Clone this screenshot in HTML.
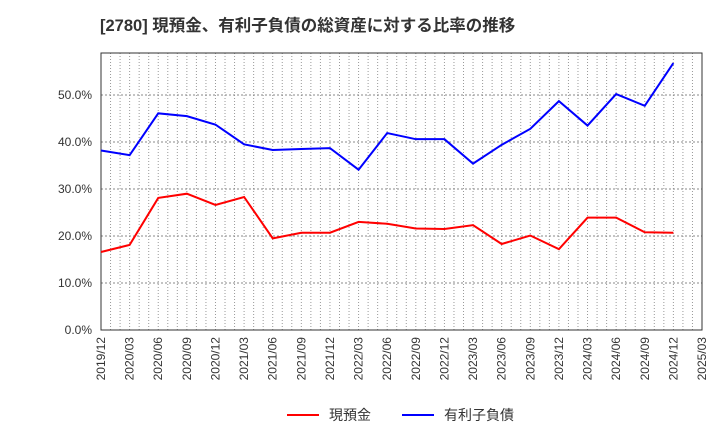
<!DOCTYPE html>
<html><head><meta charset="utf-8"><style>
body{margin:0;background:#fff;}
svg text{font-family:"Liberation Sans","Noto Sans CJK JP",sans-serif;}
</style></head><body>
<svg id="c" width="720" height="440" xmlns="http://www.w3.org/2000/svg">
<text x="100" y="31" font-size="16.5" font-weight="bold" fill="#333">[2780]  現預金、有利子負債の総資産に対する比率の推移</text>
<g id="grid"></g><g id="axes"></g><g id="series"></g>
<g>
<line x1="287" y1="415" x2="319" y2="415" stroke="#f00" stroke-width="2"/>
<text x="329" y="420" font-size="14" fill="#333">現預金</text>
<line x1="402" y1="415" x2="434" y2="415" stroke="#00f" stroke-width="2"/>
<text x="444" y="420" font-size="14" fill="#333">有利子負債</text>
</g>
</svg>
<script>
const categories=["2019/12","2020/03","2020/06","2020/09","2020/12","2021/03","2021/06","2021/09","2021/12","2022/03","2022/06","2022/09","2022/12","2023/03","2023/06","2023/09","2023/12","2024/03","2024/06","2024/09","2024/12","2025/03"];
const cash=[16.6,18.1,28.1,29.0,26.6,28.3,19.5,20.7,20.7,23.0,22.6,21.6,21.5,22.3,18.3,20.1,17.2,23.9,23.9,20.8,20.7];
const debt=[38.2,37.2,46.1,45.5,43.7,39.5,38.3,38.5,38.7,34.1,41.9,40.6,40.6,35.4,39.4,42.8,48.7,43.5,50.2,47.7,56.8];
const yTicks=[0,10,20,30,40,50];
const L=101,R=702,T=53,B=330;
const NS="http://www.w3.org/2000/svg";
const xs=i=>L+i*(R-L)/(categories.length-1);
const ys=v=>B-v*(B-95)/50;
function mk(tag,attrs,parent){const e=document.createElementNS(NS,tag);for(const k in attrs)e.setAttribute(k,attrs[k]);parent.appendChild(e);return e;}
const grid=document.getElementById('grid'),axes=document.getElementById('axes'),ser=document.getElementById('series');
for(let m=1;m<(categories.length-1)*3;m++){
  const x=L+m*(R-L)/((categories.length-1)*3);
  const g=mk('line',{x1:x,x2:x,y1:T,y2:B,stroke:'#999','stroke-dasharray':'1,2','stroke-width':1},grid);
  
  
}
yTicks.forEach(v=>{
  const y=ys(v);
  if(v>0){const g=mk('line',{x1:L,x2:R,y1:y,y2:y,stroke:'#888','stroke-dasharray':'2,2','stroke-width':1},grid);
  
  }
  const t=mk('text',{x:L-9,y:y+4,'font-size':12,'text-anchor':'end',fill:'#333'},axes);
  t.textContent=v.toFixed(1)+'%';
  
  
});
categories.forEach((c,i)=>{
  const x=xs(i);
  const t=mk('text',{x:x+4,y:B+7,'font-size':12,'text-anchor':'end',fill:'#333',transform:`rotate(-90 ${x+4} ${B+7})`},axes);
  t.textContent=c;
  
  
});
const fr=mk('rect',{x:L,y:T,width:R-L,height:B-T,fill:'none',stroke:'#333','stroke-width':1},axes);


const p1=mk('polyline',{points:cash.map((v,i)=>xs(i)+','+ys(v)).join(' '),fill:'none',stroke:'#f00','stroke-width':2},ser);


const p2=mk('polyline',{points:debt.map((v,i)=>xs(i)+','+ys(v)).join(' '),fill:'none',stroke:'#00f','stroke-width':2},ser);


</script>
</body></html>
